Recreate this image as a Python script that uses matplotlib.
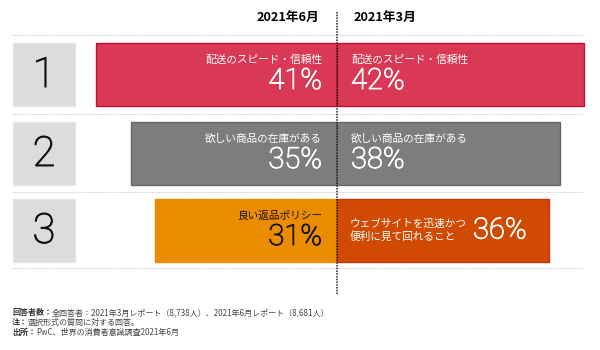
import matplotlib
matplotlib.use("Agg")
import matplotlib.pyplot as plt
import matplotlib.patheffects as pe
from matplotlib.patches import Rectangle

plt.rcParams["font.family"] = ["Noto Sans CJK JP", "DejaVu Sans"]

# data
ranks = ["1", "2", "3"]
jun_labels = ["配送のスピード・信頼性", "欲しい商品の在庫がある", "良い返品ポリシー"]
jun_values = [41, 35, 31]
mar_labels = ["配送のスピード・信頼性", "欲しい商品の在庫がある", "ウェブサイトを迅速かつ\n便利に見て回れること"]
mar_values = [42, 38, 36]
headers = ["2021年6月", "2021年3月"]
jun_colors = ["#D93954", "#7D7D7D", "#EB8C00"]
mar_colors = ["#D93954", "#7D7D7D", "#D04A02"]
jun_edges = ["#C8102E", "#666666", "#EB8C00"]
mar_edges = ["#C8102E", "#666666", "#C0390A"]
jun_text = ["white", "white", "#141414"]
notes = [
    ("回答者数：", "全回答者：2021年3月レポート（8,738人）、2021年6月レポート（8,681人）"),
    ("注：", "選択形式の質問に対する回答。"),
    ("出所：", "PwC、世界の消費者意識調査2021年6月"),
]

# layout (x in % units, y in px)
PX = 1 / 5.88            # one pixel in % units
row_y = [74.5, 153.5, 230.5]
bar_h = 63
digit_font = ["Roboto", "DejaVu Sans"]
pct_size = 21


def thick(color):
    return [pe.withStroke(linewidth=0.7, foreground=color)]


fig = plt.figure(figsize=(6, 3.5), dpi=100)
ax = fig.add_axes([0, 0, 1, 1])
ax.set_xlim(-337 * PX, 263 * PX)
ax.set_ylim(350, 0)
ax.axis("off")

# dotted separators
for y in [35, 113.5, 192, 268]:
    ax.plot([-325 * PX, 246 * PX], [y, y], color="#C8C8C8", lw=0.8,
            ls=(0, (1, 1.2)), zorder=1)

ax.barh(row_y, [-v for v in jun_values], height=bar_h, left=0,
        color=jun_colors, edgecolor=jun_edges, linewidth=1, zorder=2)
ax.barh(row_y, mar_values, height=bar_h, left=0,
        color=mar_colors, edgecolor=mar_edges, linewidth=1, zorder=2)

for i, y in enumerate(row_y):
    top = y - bar_h / 2
    # rank box
    ax.add_patch(Rectangle((-324 * PX, top), 62 * PX, bar_h, facecolor="#DCDCDC",
                           edgecolor="#E6E6E6", lw=1, zorder=2))
    ax.text(-293 * PX, y + 1, ranks[i], ha="center", va="center", fontsize=30,
            family=digit_font, fontweight="light", color="#111111", zorder=3,
            path_effects=thick("#111111"))
    # June side
    ax.text(-15 * PX, top + 16.5, jun_labels[i], ha="right", va="center",
            fontsize=7.7, color=jun_text[i], zorder=3)
    ax.text(-15 * PX, top + 38, f"{jun_values[i]}%", ha="right", va="center",
            fontsize=pct_size, family=digit_font, fontweight="light",
            color=jun_text[i], zorder=3, path_effects=thick(jun_text[i]))
    # March side
    if "\n" in mar_labels[i]:
        ax.text(13 * PX, y, mar_labels[i], ha="left", va="center", fontsize=7.7,
                linespacing=1.25, color="white", zorder=3)
        ax.text(136 * PX, y, f"{mar_values[i]}%", ha="left", va="center",
                fontsize=pct_size, family=digit_font, fontweight="light",
                color="white", zorder=3, path_effects=thick("white"))
    else:
        ax.text(14 * PX, top + 16.5, mar_labels[i], ha="left", va="center",
                fontsize=7.7, color="white", zorder=3)
        ax.text(14 * PX, top + 38, f"{mar_values[i]}%", ha="left", va="center",
                fontsize=pct_size, family=digit_font, fontweight="light",
                color="white", zorder=3, path_effects=thick("white"))

# headers
ax.text(-18 * PX, 17, headers[0], ha="right", va="center", fontsize=9.2,
        fontweight="bold", color="black")
ax.text(17 * PX, 17, headers[1], ha="left", va="center", fontsize=9.2,
        fontweight="bold", color="black")

# centre divider
ax.plot([0, 0], [12, 295], color="#222222", lw=1.1, ls=(0, (1, 0.8)), zorder=4)

# footnotes
renderer = fig.canvas.get_renderer()
for j, (lab, txt) in enumerate(notes):
    yy = 315 + j * 10
    t = ax.text(-325 * PX, yy, lab, ha="left", va="baseline", fontsize=5.8,
                fontweight="bold", color="#333333")
    bb = t.get_window_extent(renderer)
    x_end = ax.transData.inverted().transform((bb.x1, bb.y0))[0]
    ax.text(x_end, yy, txt, ha="left", va="baseline", fontsize=5.8,
            color="#444444")

fig.savefig("out.png", dpi=100)
